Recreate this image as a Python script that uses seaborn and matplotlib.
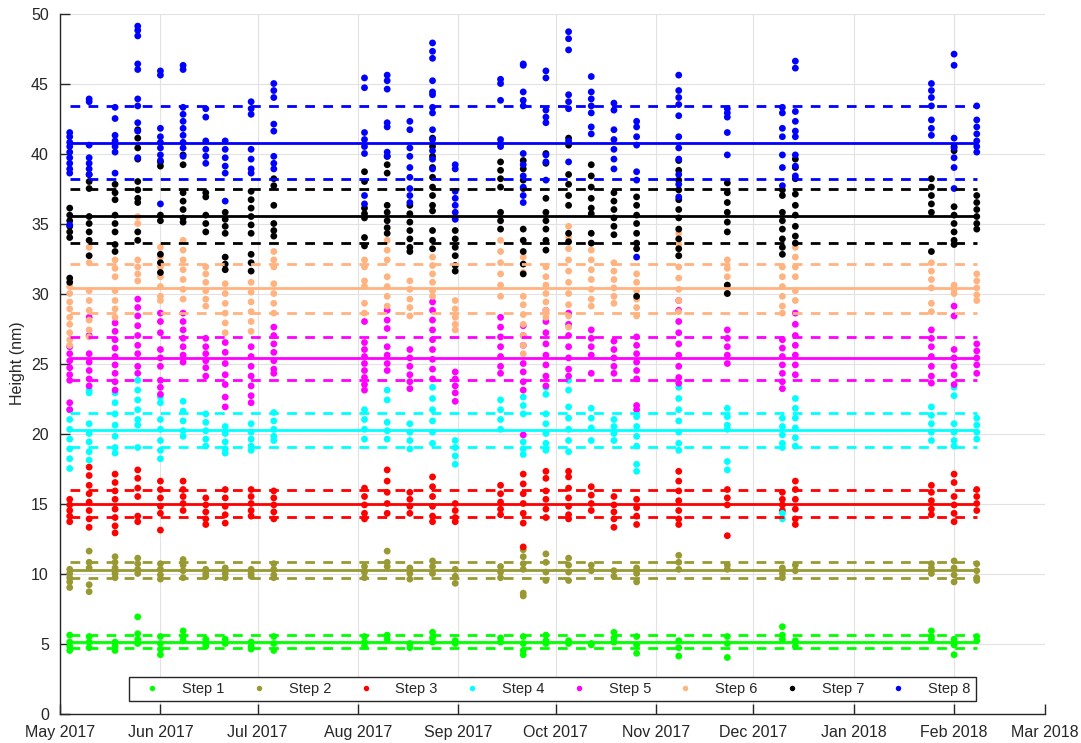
import matplotlib
matplotlib.use('Agg')
import matplotlib.dates as mdates
import matplotlib.pyplot as plt
import pandas as pd
import seaborn as sns

# Measurement dates (one cluster of points per date)
dates = ['2017-05-04', '2017-05-10', '2017-05-18', '2017-05-25', '2017-06-01',
         '2017-06-08', '2017-06-15', '2017-06-21', '2017-06-29', '2017-07-06',
         '2017-08-03', '2017-08-10', '2017-08-17', '2017-08-24', '2017-08-31',
         '2017-09-14', '2017-09-21', '2017-09-28', '2017-10-05', '2017-10-12',
         '2017-10-19', '2017-10-26', '2017-11-08', '2017-11-23', '2017-12-10',
         '2017-12-14', '2018-01-25', '2018-02-01', '2018-02-08']

step_names = ['Step 1', 'Step 2', 'Step 3', 'Step 4', 'Step 5', 'Step 6', 'Step 7', 'Step 8']
step_colors = ['#00ff00', '#999933', '#ff0000', '#00ffff', '#ff00ff', '#ffb380', '#000000', '#0000ff']

# Mean height and standard deviation of each step (solid / dashed lines)
step_means = [5.13, 10.25, 15.0, 20.25, 25.37, 30.36, 35.53, 40.77]
step_stds = [0.47, 0.6, 0.93, 1.24, 1.54, 1.72, 1.94, 2.6]

step1 = [[5.6, 5.1, 4.8, 4.5], [5.5, 5.1, 4.7], [5.1, 4.8, 4.5], [6.9, 5.7, 5.3, 5.0],
         [5.5, 5.0, 4.6, 4.2], [5.9, 5.5, 5.2], [5.3, 5.0, 4.8], [5.3, 5.0], [5.1, 4.8, 4.6],
         [5.5, 5.0, 4.5], [5.5, 5.1, 4.8], [5.6, 5.3], [5.0, 4.7], [5.8, 5.4, 5.1], [5.2, 5.0],
         [5.4, 5.1], [5.5, 5.0, 4.5, 4.2], [5.6, 5.2, 5.0], [5.2, 5.0], [5.0, 4.9],
         [5.8, 5.4, 5.1], [5.5, 4.9, 4.3], [5.2, 4.7, 4.1], [5.5, 5.0, 4.0], [6.2, 5.6, 5.3],
         [5.2, 4.8], [5.9, 5.5, 5.3], [5.3, 4.9, 4.2], [5.5, 5.2]]

step2 = [[10.3, 10.0, 9.7, 9.4, 9.0], [11.6, 10.8, 10.4, 9.2, 8.7], [11.2, 10.8, 10.4, 10.0, 9.7],
         [11.1, 10.7, 10.3, 10.0], [10.7, 10.3, 9.9, 9.6], [11.0, 10.6, 10.2, 9.7],
         [10.3, 10.0, 9.8], [10.4, 10.0, 9.7], [10.3, 10.0, 9.8], [10.7, 10.3, 9.9, 9.7],
         [10.5, 10.1, 9.7], [11.6, 10.8, 10.5], [10.4, 10.0, 9.6], [10.9, 10.5, 10.0],
         [10.3, 9.8, 9.3], [10.5, 10.1, 9.7], [11.7, 11.2, 10.7, 10.3, 8.6, 8.4],
         [11.4, 10.8, 10.1, 9.5], [11.1, 10.6, 10.1, 9.5], [10.6, 10.2], [10.2, 9.8],
         [10.4, 10.0, 9.4], [11.3, 10.8, 10.3], [10.6, 10.3], [10.4, 10.0, 9.7], [10.6, 10.2],
         [10.7, 10.4, 10.0], [10.9, 10.4, 9.9, 9.4], [10.7, 10.2, 9.7, 9.5]]

step3 = [[15.3, 14.9, 14.5, 14.1, 13.7], [17.6, 17.0, 16.3, 15.7, 15.1, 14.5, 13.9, 13.3],
         [17.1, 16.5, 15.9, 15.3, 14.6, 14.0, 13.4, 12.9], [17.4, 16.8, 16.1, 15.5, 14.1, 13.7],
         [16.6, 16.0, 15.4, 14.8, 14.3, 13.1], [16.6, 16.0, 15.5, 15.0, 14.5],
         [15.4, 14.9, 14.4, 13.9, 13.5], [16.0, 15.4, 14.8, 14.2, 13.6],
         [16.0, 15.5, 15.0, 14.5, 14.1], [15.9, 15.4, 14.9, 14.4, 13.9],
         [16.1, 15.5, 14.9, 14.3, 13.9], [17.4, 16.6, 15.8, 15.0, 14.3], [15.8, 15.3, 14.8, 14.3],
         [16.9, 16.2, 15.5, 14.8, 14.1, 13.7], [15.0, 14.5, 14.0, 13.7],
         [16.3, 15.7, 15.1, 14.6, 14.2], [17.1, 16.4, 15.7, 15.0, 14.3, 13.6, 11.9],
         [17.3, 16.8, 15.9, 15.3, 14.6, 14.0], [17.3, 16.9, 16.1, 15.4, 14.8, 14.2, 13.9],
         [16.2, 15.6, 15.0, 14.5], [15.5, 14.9, 14.4, 13.9, 13.3], [15.3, 14.7, 14.1, 13.5],
         [17.3, 16.6, 15.9, 15.2, 14.5, 13.9, 13.5], [16.0, 15.4, 14.9, 12.7],
         [15.8, 15.3, 14.9, 14.5], [16.6, 16.0, 15.3, 14.6, 13.9, 13.5],
         [16.3, 15.8, 15.2, 14.6, 14.2], [17.1, 16.5, 15.5, 14.9, 14.3, 13.7],
         [16.0, 15.5, 15.0, 14.5]]

step4 = [[21.7, 21.0, 20.3, 19.6, 18.9, 18.2, 17.5], [23.1, 22.9, 20.7, 20.0, 19.4, 18.7, 18.1],
         [22.9, 22.2, 21.4, 20.6, 19.8, 19.0, 18.6], [23.8, 23.1, 22.4, 21.7, 21.0, 20.6, 19.0],
         [22.6, 22.2, 21.0, 20.3, 19.5, 18.8, 18.2], [22.3, 21.6, 20.9, 20.2, 19.8],
         [21.4, 20.8, 20.2, 19.6, 19.1], [20.5, 20.0, 19.4, 18.9, 18.6],
         [20.7, 20.1, 19.6, 19.1, 18.8], [21.5, 20.9, 20.3, 19.8, 19.5], [21.7, 21.0, 20.3, 19.6],
         [23.1, 22.4, 20.8, 20.2, 19.6], [20.7, 20.1, 19.5, 18.9],
         [23.3, 22.5, 21.7, 20.9, 20.1, 19.3], [19.5, 19.0, 18.4, 17.8], [22.4, 21.7, 21.0, 20.3],
         [22.6, 22.0, 21.4, 19.4, 18.9, 18.5], [23.3, 22.8, 21.4, 20.7, 20.0, 19.3, 18.8],
         [23.8, 23.1, 21.9, 21.1, 20.3, 19.5, 18.7], [21.8, 21.1, 20.4, 19.5],
         [21.0, 20.5, 20.0, 19.5], [21.2, 20.5, 19.8, 19.1, 17.8, 17.3],
         [23.3, 22.5, 21.7, 20.9, 20.1, 19.3, 18.8], [21.8, 21.2, 20.6, 20.3, 18.0, 17.4],
         [21.1, 20.5, 19.9, 19.3, 19.0, 14.3, 13.9], [22.5, 21.8, 21.1, 20.4, 19.7, 19.1],
         [21.9, 21.3, 20.7, 20.1, 19.5], [23.3, 22.7, 20.7, 20.1, 19.5, 19.1],
         [21.1, 20.6, 20.1, 19.6]]

step5 = [[26.2, 25.7, 25.2, 24.7, 24.2, 23.8, 22.2, 21.7], [28.3, 27.0, 25.7, 25.1, 24.5, 23.9, 23.4],
         [27.9, 27.3, 26.7, 26.1, 25.5, 24.9, 24.3, 23.7, 23.1],
         [29.6, 29.0, 28.4, 27.7, 27.0, 26.3, 25.7, 24.8, 24.3],
         [28.6, 28.0, 27.2, 26.0, 25.4, 24.8, 23.8, 23.3, 22.8],
         [28.6, 28.0, 27.4, 26.8, 26.2, 25.6, 25.1], [26.8, 26.2, 25.7, 25.2, 24.7, 24.1],
         [26.5, 25.8, 25.0, 24.2, 23.5, 22.6, 21.9], [26.2, 25.5, 24.8, 24.1, 23.4, 22.7, 22.2],
         [27.6, 27.0, 26.4, 25.8, 25.2, 24.6, 24.3],
         [28.0, 26.5, 26.0, 25.5, 25.0, 24.5, 24.0, 23.5, 23.1],
         [28.8, 28.1, 27.5, 26.2, 25.6, 25.0, 24.5], [26.0, 25.4, 24.8, 24.2, 23.7, 23.2],
         [29.4, 28.8, 28.1, 27.4, 26.7, 26.0, 25.3, 24.6, 23.9], [24.4, 23.9, 23.4, 22.9, 22.3],
         [28.3, 27.6, 26.9, 26.2, 25.5, 24.8, 24.3], [27.7, 27.0, 26.3, 25.0, 24.4, 23.7, 23.1, 19.9],
         [28.8, 28.0, 27.2, 26.4, 25.6, 24.9, 24.1, 23.4], [28.6, 27.8, 27.0, 26.2, 25.4, 24.6, 24.1],
         [27.4, 26.8, 26.2, 25.6, 24.3], [26.6, 26.0, 25.4, 24.8, 24.3],
         [26.9, 26.3, 25.7, 25.1, 24.5, 23.9, 22.0, 21.7],
         [29.5, 28.8, 28.0, 27.2, 26.4, 25.6, 24.8, 24.0, 23.6], [27.4, 26.8, 26.2, 25.6, 25.0],
         [26.7, 26.1, 25.5, 24.9, 24.3, 23.7, 23.2], [28.6, 27.8, 27.0, 26.3, 25.6, 24.9, 24.2],
         [27.4, 26.8, 26.2, 25.5, 24.8, 24.1, 23.6], [29.1, 28.4, 26.0, 25.4, 24.8, 24.2, 23.5],
         [26.4, 25.9, 25.4, 24.9, 24.3]]

step6 = [[30.5, 30.0, 29.4, 28.9, 28.3, 27.8, 27.2, 26.7, 26.3],
         [33.3, 32.2, 30.2, 29.5, 28.8, 28.1, 27.4, 26.9], [32.4, 31.8, 31.2, 30.2, 29.5, 28.9, 28.3],
         [35.5, 35.0, 32.4, 31.9, 31.4, 30.9], [33.3, 32.6, 31.9, 31.2, 30.5, 29.8, 29.5],
         [33.8, 33.1, 32.4, 31.7, 31.0, 30.3, 29.6], [31.9, 31.4, 30.8, 30.2, 29.6, 29.1],
         [30.7, 30.0, 29.3, 28.6, 27.9, 27.2], [30.8, 30.1, 29.4, 28.7, 28.0, 27.3],
         [33.0, 32.4, 31.9, 30.7, 30.0, 29.3, 28.6], [32.4, 31.9, 30.9, 30.5, 29.3, 28.6],
         [33.8, 33.1, 32.4, 31.2, 30.5, 29.8, 29.1], [30.9, 30.3, 29.6, 29.0, 28.4],
         [32.6, 32.0, 31.4, 30.8, 30.2, 29.8], [29.5, 28.9, 28.3, 27.8, 27.4],
         [33.8, 33.0, 32.2, 31.4, 30.6, 29.8], [32.6, 31.5, 29.8, 29.2, 28.5, 27.8, 27.0, 26.3, 25.7],
         [31.9, 31.2, 30.6, 30.0, 29.4, 28.8, 28.3],
         [34.8, 34.0, 33.2, 32.4, 31.6, 30.8, 30.0, 29.2, 28.4, 27.6],
         [33.1, 32.4, 31.7, 31.0, 30.3, 29.6, 29.1], [32.2, 31.6, 31.0, 30.4, 29.8, 29.3],
         [31.4, 30.8, 30.2, 29.6, 29.0, 28.4], [34.3, 33.5, 32.7, 31.9, 31.1, 30.3, 29.5, 28.7],
         [32.4, 31.8, 31.2, 30.6, 30.0], [31.9, 31.2, 30.5, 29.8, 29.1, 28.6],
         [33.3, 32.6, 31.9, 31.2, 30.2, 29.5], [32.2, 31.6, 31.0, 30.4, 29.3, 28.7],
         [30.6, 30.3, 30.0], [31.4, 30.9, 30.4, 29.9, 29.5]]

step7 = [[36.1, 35.6, 35.2, 34.8, 34.4, 34.0, 31.1, 30.8], [38.5, 38.0, 37.5, 35.5, 35.0, 34.4, 33.8, 32.7],
         [37.8, 37.2, 36.7, 35.6, 35.0, 34.4, 33.5, 33.0],
         [41.7, 41.1, 40.4, 39.6, 38.0, 37.4, 36.8, 36.5, 34.4, 33.8],
         [39.4, 39.1, 35.6, 35.2, 32.8, 32.2, 31.5], [39.9, 39.2, 37.2, 36.6, 36.0, 35.4, 35.1],
         [37.2, 36.9, 35.6, 35.0, 34.4], [35.8, 35.3, 34.8, 34.3, 32.6, 32.1, 31.7],
         [37.3, 36.7, 36.1, 35.5, 34.9, 34.3, 32.8, 32.2, 31.6], [38.2, 37.7, 36.3, 35.0, 34.5, 34.1],
         [38.7, 38.0, 36.1, 35.7, 35.4, 34.0, 33.4], [39.8, 39.2, 38.6, 36.3, 35.8, 35.2, 34.7, 34.3],
         [36.3, 35.7, 35.1, 34.5, 33.9, 33.3, 33.0],
         [41.1, 40.5, 39.8, 39.0, 38.3, 37.6, 37.0, 36.3, 35.9, 34.5, 33.8, 33.2],
         [34.5, 33.9, 33.3, 32.7, 32.0, 31.6], [39.4, 38.8, 38.2, 37.6, 35.8, 35.2, 34.6],
         [39.5, 38.9, 38.1, 37.5, 34.6, 33.8, 33.0, 32.1, 31.4],
         [40.0, 39.3, 36.8, 35.8, 35.2, 34.6, 33.8, 33.1], [41.1, 40.6, 38.5, 37.8, 37.0, 36.3, 34.3, 33.7],
         [39.2, 38.4, 37.6, 36.8, 36.1, 35.7, 34.3, 33.6], [37.2, 36.6, 36.0, 35.4, 34.8, 34.2],
         [36.9, 36.3, 35.6, 35.0, 34.3, 33.6, 33.2, 29.8],
         [39.5, 38.8, 38.1, 37.4, 36.7, 36.0, 35.4, 34.6, 33.9, 33.2, 32.7],
         [37.9, 37.2, 36.5, 35.8, 35.1, 34.4, 30.6, 30.0], [37.4, 37.0, 35.8, 35.2, 34.6, 33.9, 33.3, 32.8],
         [39.6, 39.0, 38.2, 37.1, 36.3, 35.6, 34.8, 34.1, 33.6], [38.2, 37.6, 37.0, 36.4, 35.8, 33.0],
         [40.5, 40.2, 36.2, 35.6, 35.0, 34.4, 33.8, 33.5], [37.0, 36.5, 36.0, 35.5, 35.0, 34.6]]

step8 = [[41.5, 41.2, 40.8, 40.5, 40.1, 39.7, 39.3, 38.9, 38.6, 34.9],
         [43.9, 43.7, 40.6, 39.7, 39.3, 38.9, 38.5], [43.3, 42.5, 41.3, 40.9, 40.5, 40.1, 38.6],
         [49.1, 48.8, 48.4, 46.4, 46.0, 43.9, 43.4, 42.2, 41.6, 39.7],
         [45.9, 45.6, 41.8, 41.2, 40.8, 40.4, 39.9, 39.5, 36.4],
         [46.3, 46.0, 43.3, 42.8, 42.3, 41.8, 41.3, 40.8, 40.4, 39.8],
         [43.2, 42.6, 40.9, 40.3, 39.8, 39.3], [40.9, 40.3, 39.7, 39.1, 38.6, 36.6],
         [43.7, 43.2, 42.8, 40.3, 39.6, 38.9, 38.6], [45.0, 44.5, 44.0, 42.1, 41.6, 39.8, 39.3, 38.9],
         [45.4, 44.7, 41.5, 41.0, 40.5, 40.0, 37.0, 36.4], [45.6, 45.2, 44.6, 42.2, 41.9, 40.1, 39.8],
         [42.3, 41.7, 40.4, 39.8, 39.0, 38.3, 37.5, 37.0, 36.5],
         [47.9, 47.3, 46.8, 45.2, 44.4, 44.2, 43.3, 42.9, 41.7, 41.0, 40.2, 39.6, 38.9],
         [39.2, 38.9, 37.3, 36.8, 36.3, 35.8, 35.3], [45.3, 45.0, 43.8, 41.0, 40.7, 40.5],
         [46.4, 46.3, 44.4, 43.8, 43.4, 40.0, 39.2, 38.4, 37.6, 37.0, 36.5],
         [45.9, 45.4, 43.1, 42.6, 42.2, 39.9, 39.4, 38.1], [48.7, 48.2, 47.4, 44.2, 43.7, 43.2, 40.9, 39.4],
         [45.5, 44.4, 43.9, 43.4, 42.9, 41.9, 41.4], [43.6, 43.1, 41.7, 41.0, 40.3, 39.6, 38.9],
         [42.3, 41.9, 41.2, 40.6, 38.7, 38.1, 32.6],
         [45.6, 44.5, 44.0, 43.5, 42.7, 41.2, 40.4, 39.6, 38.5, 37.8, 36.9],
         [43.2, 42.9, 42.6, 41.5, 39.9], [43.3, 42.9, 41.8, 41.2, 39.9, 39.0, 37.7],
         [46.6, 46.1, 43.0, 42.3, 41.6, 41.2, 39.9, 39.1, 38.4], [45.0, 44.5, 44.0, 43.4, 42.4, 41.8, 41.3],
         [47.1, 46.3, 41.1, 40.4, 39.7, 39.0, 37.5], [43.4, 42.4, 41.9, 41.4, 40.9, 40.5, 40.1]]

all_steps = [step1, step2, step3, step4, step5, step6, step7, step8]

rows = []
for name, step in zip(step_names, all_steps):
    for day, values in zip(dates, step):
        for v in values:
            rows.append((pd.Timestamp(day), v, name))
df = pd.DataFrame(rows, columns=['date', 'height', 'step'])

sns.set_style('white')
plt.rcParams['font.family'] = ['Liberation Sans', 'DejaVu Sans']

fig = plt.figure(figsize=(10.81, 7.43), dpi=100)
ax = fig.add_axes([0.0555, 0.0397, 0.911, 0.9421])

sns.scatterplot(data=df, x='date', y='height', hue='step', hue_order=step_names,
                palette=step_colors, s=24, linewidth=0, ax=ax, zorder=2)

x_ends = [pd.Timestamp(dates[0]), pd.Timestamp(dates[-1])]
for m, sd, c in zip(step_means, step_stds, step_colors):
    sns.lineplot(x=x_ends, y=[m, m], color=c, lw=2, ax=ax, zorder=3)
    for level in (m + sd, m - sd):
        sns.lineplot(x=x_ends, y=[level, level], color=c, lw=2,
                     linestyle=(0, (3.5, 3)), ax=ax, zorder=3)

ax.set_xlim(pd.Timestamp('2017-05-01'), pd.Timestamp('2018-03-01'))
ax.set_ylim(0, 50)
ax.set_yticks(range(0, 51, 5))
ax.xaxis.set_major_locator(mdates.MonthLocator())
ax.xaxis.set_major_formatter(mdates.DateFormatter('%b %Y'))

ax.grid(True, color='#e2e2e2', lw=0.8)
ax.set_axisbelow(True)
for side in ('top', 'right'):
    ax.spines[side].set_visible(False)
for side in ('left', 'bottom'):
    ax.spines[side].set_color('#262626')
    ax.spines[side].set_linewidth(1)
ax.tick_params(bottom=True, left=True, top=False, right=False, direction='in',
               length=7, width=1, color='#262626', labelcolor='#262626',
               labelsize=11.5, pad=8)

ax.set_xlabel('')
ax.set_ylabel('Height (nm)', fontsize=11.5, color='#262626', labelpad=4)

handles, labels = ax.get_legend_handles_labels()
ax.legend(handles[:8], labels[:8], loc='lower center', bbox_to_anchor=(0.5, 0.018),
          ncol=8, fontsize=10.5, frameon=True, fancybox=False, framealpha=1,
          edgecolor='#262626', borderaxespad=0, handlelength=2.5, handletextpad=0.8,
          columnspacing=1.1, borderpad=0.35, markerscale=0.8)
ax.get_legend().get_frame().set_linewidth(1)

fig.savefig('out.png', dpi=100)
